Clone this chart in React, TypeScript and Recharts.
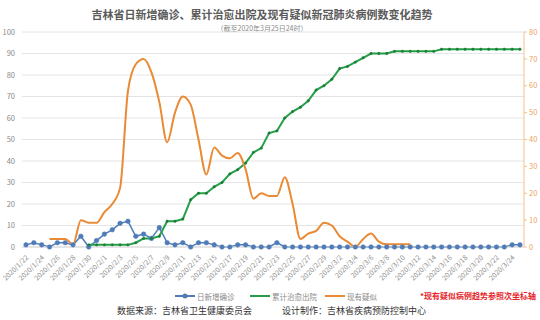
import { LineChart, Line, XAxis, YAxis, CartesianGrid } from "recharts";

const FONT = '"Noto Sans CJK SC", "Noto Sans", sans-serif';

const dates = [
  "2020/1/22", "2020/1/23", "2020/1/24", "2020/1/25", "2020/1/26", "2020/1/27", "2020/1/28", "2020/1/29",
  "2020/1/30", "2020/1/31", "2020/2/1", "2020/2/2", "2020/2/3", "2020/2/4", "2020/2/5", "2020/2/6",
  "2020/2/7", "2020/2/8", "2020/2/9", "2020/2/10", "2020/2/11", "2020/2/12", "2020/2/13", "2020/2/14",
  "2020/2/15", "2020/2/16", "2020/2/17", "2020/2/18", "2020/2/19", "2020/2/20", "2020/2/21", "2020/2/22",
  "2020/2/23", "2020/2/24", "2020/2/25", "2020/2/26", "2020/2/27", "2020/2/28", "2020/2/29", "2020/3/1",
  "2020/3/2", "2020/3/3", "2020/3/4", "2020/3/5", "2020/3/6", "2020/3/7", "2020/3/8", "2020/3/9",
  "2020/3/10", "2020/3/11", "2020/3/12", "2020/3/13", "2020/3/14", "2020/3/15", "2020/3/16", "2020/3/17",
  "2020/3/18", "2020/3/19", "2020/3/20", "2020/3/21", "2020/3/22", "2020/3/23", "2020/3/24", "2020/3/25",
];

// 日新增确诊
const dailyNew = [
  1, 2, 1, 0, 2, 2, 1, 5, 0, 3, 6, 8, 11, 12, 5, 6,
  4, 9, 2, 1, 2, 0, 2, 2, 1, 0, 0, 1, 1, 0, 0, 0,
  2, 0, 0, 0, 0, 0, 0, 0, 0, 0, 0, 0, 0, 0, 0, 0,
  0, 0, 0, 0, 0, 0, 0, 0, 0, 0, 0, 0, 0, 0, 1, 1,
];

// 累计治愈出院
const cured = [
  null, null, null, null, null, null, null, null, 1, 1, 1, 1, 1, 1, 2, 4,
  4, 5, 12, 12, 13, 22, 25, 25, 28, 30, 34, 36, 39, 44, 46, 53,
  54, 60, 63, 65, 68, 73, 75, 78, 83, 84, 86, 88, 90, 90, 90, 91,
  91, 91, 91, 91, 91, 92, 92, 92, 92, 92, 92, 92, 92, 92, 92, 92,
];

// 现有疑似 (次坐标轴)
const suspected = [
  null, null, null, 3, 3, 3, 1, 10, 9, 9, 13, 16, 22, 58, 68, 70,
  65, 54, 39, 50, 56, 53, 40, 27, 37, 34, 33, 35, 29, 18, 20, 19,
  19, 26, 16, 3, 5, 6, 9, 8, 4, 2, 0, 3, 5, 2, 1, 1,
  1, 1, null, null, null, null, null, null, null, null, null, null, null, null, null, null,
];

const leftTicks = [0, 10, 20, 30, 40, 50, 60, 70, 80, 90, 100];
const rightTicks = [0, 10, 20, 30, 40, 50, 60, 70, 80];

const data = dates.map((date, i) => ({
  date,
  daily: dailyNew[i],
  cured: cured[i],
  suspected: suspected[i],
}));

const BLUE = "#4f7cb8";
const GREEN = "#24a046";
const ORANGE = "#e98a34";

const DateTick = ({ x, y, payload }: any) => {
  const tx = x + 3;
  const ty = y + 3;
  return (
    <text
      x={tx}
      y={ty}
      transform={`rotate(-45 ${tx} ${ty})`}
      textAnchor="end"
      fontSize={7}
      fill="#8a8a8a"
      fontFamily={FONT}
    >
      {payload.value}
    </text>
  );
};

const LegendItem = ({ color, label, dot, left }: any) => (
  <div style={{ position: "absolute", left, top: 290, display: "flex", alignItems: "center", height: 12 }}>
    <svg width={20} height={8}>
      <line x1={0} y1={4} x2={20} y2={4} stroke={color} strokeWidth={2} />
      {dot && <circle cx={10} cy={4} r={2.5} fill={color} />}
    </svg>
    <span style={{ fontSize: 7.5, color: "#8a8a8a", marginLeft: 2 }}>{label}</span>
  </div>
);

export default function App() {
  return (
    <div
      style={{
        position: "absolute",
        left: 0,
        top: 0,
        width: 540,
        height: 320,
        background: "#fff",
        fontFamily: FONT,
        overflow: "hidden",
      }}
    >
      <div style={{ position: "absolute", left: 0, width: 524, top: 6, textAlign: "center", fontSize: 11, fontWeight: 700, color: "#5a5a5a" }}>
        吉林省日新增确诊、累计治愈出院及现有疑似新冠肺炎病例数变化趋势
      </div>
      <div style={{ position: "absolute", left: 0, width: 524, top: 23, textAlign: "center", fontSize: 7, color: "#8a8a8a" }}>
        （截至2020年3月25日24时）
      </div>

      <LineChart width={540} height={320} data={data} margin={{ top: 32, right: 0, bottom: 33, left: 0 }}>
        <CartesianGrid yAxisId="left" vertical={false} stroke="#e4e4e4" />
        <XAxis
          dataKey="date"
          height={40}
          interval={1}
          tick={<DateTick />}
          tickLine={false}
          axisLine={{ stroke: "#d9d9d9" }}
          padding={{ left: 4, right: 4 }}
        />
        <YAxis
          yAxisId="left"
          width={22}
          domain={[0, 100]}
          ticks={leftTicks}
          interval={0}
          axisLine={false}
          tickLine={false}
          tickSize={0}
          tickMargin={7}
          tick={{ fontSize: 7.5, fill: "#8a8a8a", fontFamily: FONT }}
        />
        <YAxis
          yAxisId="right"
          orientation="right"
          width={16}
          domain={[0, 80]}
          ticks={rightTicks}
          interval={0}
          axisLine={{ stroke: "#f2c08e" }}
          tickLine={{ stroke: "#f2c08e" }}
          tickSize={3}
          tickMargin={2}
          tick={{ fontSize: 7.5, fill: "#e9a566", fontFamily: FONT }}
        />
        <Line
          yAxisId="left"
          dataKey="daily"
          stroke={BLUE}
          strokeWidth={1.5}
          dot={{ r: 2.3, fill: BLUE, stroke: BLUE, strokeWidth: 0.5 }}
          isAnimationActive={false}
        />
        <Line
          yAxisId="left"
          dataKey="cured"
          stroke={GREEN}
          strokeWidth={2}
          dot={{ r: 1.2, fill: "#1d7a3a", stroke: "#1d7a3a", strokeWidth: 0.5 }}
          isAnimationActive={false}
        />
        <Line
          yAxisId="right"
          type="monotone"
          dataKey="suspected"
          stroke={ORANGE}
          strokeWidth={2}
          dot={false}
          isAnimationActive={false}
        />
      </LineChart>

      <LegendItem color={BLUE} label="日新增确诊" dot left={175} />
      <LegendItem color={GREEN} label="累计治愈出院" left={250} />
      <LegendItem color={ORANGE} label="现有疑似" left={325} />
      <div style={{ position: "absolute", left: 420, top: 290, fontSize: 8, fontWeight: 700, color: "#e8242a", lineHeight: "12px" }}>
        *现有疑似病例趋势参照次坐标轴
      </div>
      <div style={{ position: "absolute", left: 117, top: 305, fontSize: 9, color: "#333", lineHeight: "12px", whiteSpace: "nowrap" }}>
        数据来源：吉林省卫生健康委员会
      </div>
      <div style={{ position: "absolute", left: 282, top: 305, fontSize: 9, color: "#333", lineHeight: "12px", whiteSpace: "nowrap" }}>
        设计制作：吉林省疾病预防控制中心
      </div>
    </div>
  );
}
